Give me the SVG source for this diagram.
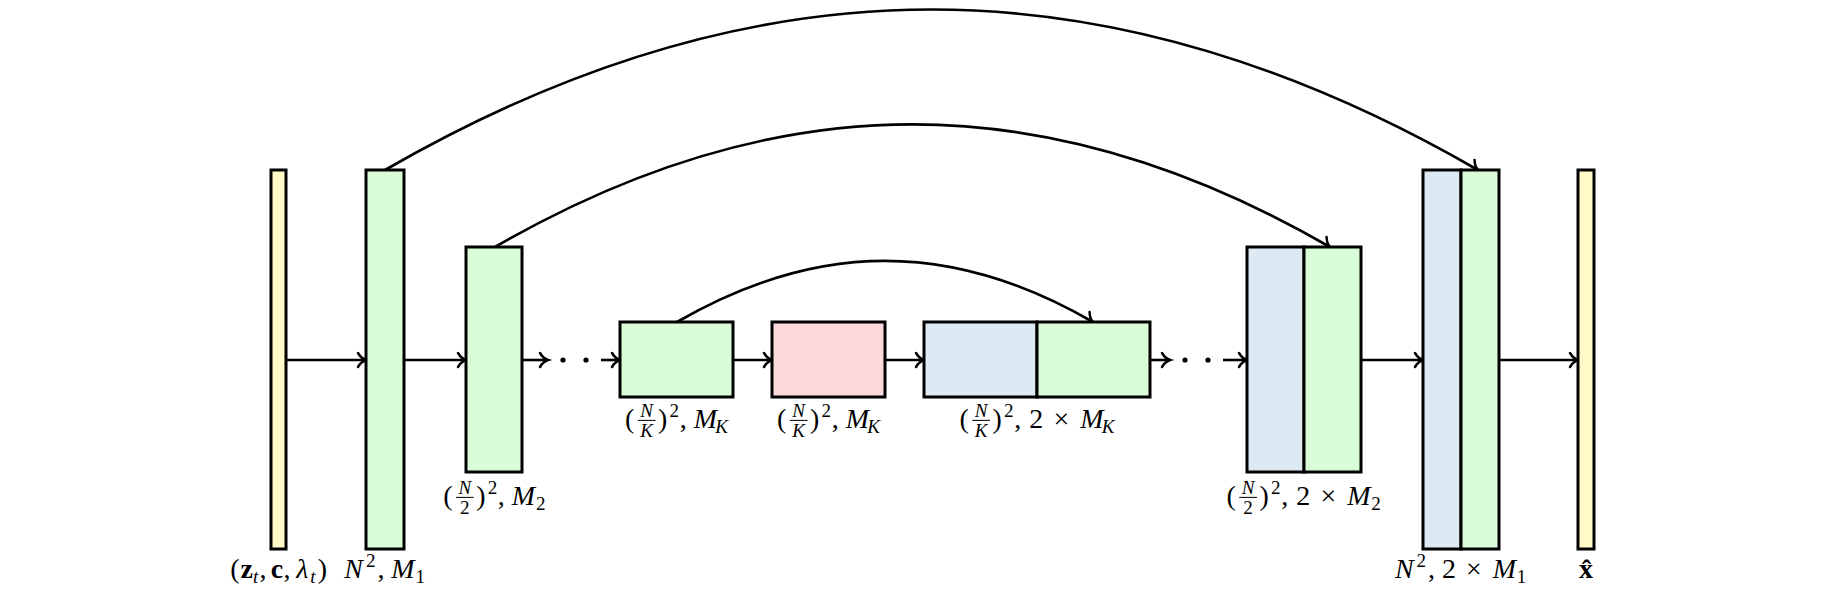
<svg xmlns="http://www.w3.org/2000/svg" width="1824" height="590" viewBox="0 0 1824 590">
<defs>
<marker id="arr" markerUnits="userSpaceOnUse" markerWidth="20" markerHeight="20" refX="0" refY="0" orient="auto" viewBox="-10 -10 20 20" overflow="visible">
<path d="M-8,-7 C-5.5,-2.8 -2,-0.6 0,0 C-2,0.6 -5.5,2.8 -8,7" fill="none" stroke="#000" stroke-width="2.5" stroke-linecap="round"/>
</marker>
</defs>
<style>
.box{stroke:#000;stroke-width:3}
.y{fill:#FFFAC6}.g{fill:#D9FCD9}.p{fill:#FCD9DB}.b{fill:#DEEAF3}
.c{fill:none;stroke:#000;stroke-width:2.6;marker-end:url(#arr)}
text{font-family:"Liberation Serif","DejaVu Serif",serif;font-size:22px;fill:#000}
.i{font-style:italic}
.s{font-size:15px}
.bf{font-weight:bold}
.xh{font-size:28px}
.fb{stroke:#000;stroke-width:0.8}
</style>
<rect width="1824" height="590" fill="#fff"/>
<g id="connectors">
<path class="c" d="M385,170 C755.7,-44 1107.3,-44 1478,170"/>
<path class="c" d="M495,247 C778,83.5 1047,83.5 1330,247"/>
<path class="c" d="M677,322 C818,240.5 952,240.5 1093,322"/>
<path class="c" d="M286,360 H366"/>
<path class="c" d="M404,360 H466"/>
<path class="c" d="M522,360 H548"/>
<path class="c" d="M601,360 H620"/>
<path class="c" d="M733,360 H772"/>
<path class="c" d="M885,360 H924"/>
<path class="c" d="M1150,360 H1170"/>
<path class="c" d="M1223,360 H1247"/>
<path class="c" d="M1361,360 H1423"/>
<path class="c" d="M1499,360 H1578"/>
<circle cx="563" cy="360" r="2.6"/>
<circle cx="586" cy="360" r="2.6"/>
<circle cx="1185" cy="360" r="2.6"/>
<circle cx="1208" cy="360" r="2.6"/>
</g>
<g id="input">
<rect class="box y" x="271" y="170" width="15" height="379"/>
<g transform="translate(278.5,578) scale(1.27) translate(-38,0)">
<text x="0" y="0">(</text><text class="bf" x="8" y="0">z</text><text class="i s" x="18" y="4">t</text><text x="23" y="0">,</text>
<text class="bf" x="32" y="0">c</text><text x="42" y="0">,</text><text class="i" x="52" y="0">λ</text><text class="i s" x="63" y="4">t</text><text x="69" y="0">)</text>
</g>
</g>
<g id="enc1">
<rect class="box g" x="366" y="170" width="38" height="379"/>
<g transform="translate(385,578) scale(1.27) translate(-32,0)">
<text class="i" x="0" y="0">N</text><text class="s" x="17" y="-9">2</text><text x="26" y="0">,</text><text class="i" x="37" y="0">M</text><text class="s" x="56" y="4">1</text>
</g>
</g>
<g id="enc2">
<rect class="box g" x="466" y="247" width="56" height="225"/>
<g transform="translate(494,505) scale(1.27) translate(-40,0)">
<text x="0" y="0">(</text><text class="i s" x="17" y="-9" text-anchor="middle">N</text><line class="fb" x1="10" x2="24" y1="-6" y2="-6"/><text class="s" x="17" y="7" text-anchor="middle">2</text>
<text x="26" y="0">)</text><text class="s" x="35" y="-9">2</text><text x="43" y="0">,</text><text class="i" x="54" y="0">M</text><text class="s" x="73" y="4">2</text>
</g>
</g>
<g id="encK">
<rect class="box g" x="620" y="322" width="113" height="75"/>
<g transform="translate(676.5,428) scale(1.27) translate(-40.5,0)">
<text x="0" y="0">(</text><text class="i s" x="17" y="-9" text-anchor="middle">N</text><line class="fb" x1="10" x2="24" y1="-6" y2="-6"/><text class="i s" x="17" y="7" text-anchor="middle">K</text>
<text x="26" y="0">)</text><text class="s" x="35" y="-9">2</text><text x="43" y="0">,</text><text class="i" x="54" y="0">M</text><text class="i s" x="71" y="4">K</text>
</g>
</g>
<g id="bottleneck">
<rect class="box p" x="772" y="322" width="113" height="75"/>
<g transform="translate(828.5,428) scale(1.27) translate(-40.5,0)">
<text x="0" y="0">(</text><text class="i s" x="17" y="-9" text-anchor="middle">N</text><line class="fb" x1="10" x2="24" y1="-6" y2="-6"/><text class="i s" x="17" y="7" text-anchor="middle">K</text>
<text x="26" y="0">)</text><text class="s" x="35" y="-9">2</text><text x="43" y="0">,</text><text class="i" x="54" y="0">M</text><text class="i s" x="71" y="4">K</text>
</g>
</g>
<g id="decK">
<rect class="box b" x="924" y="322" width="113" height="75"/>
<rect class="box g" x="1037" y="322" width="113" height="75"/>
<g transform="translate(1037,428) scale(1.27) translate(-61,0)">
<text x="0" y="0">(</text><text class="i s" x="17" y="-9" text-anchor="middle">N</text><line class="fb" x1="10" x2="24" y1="-6" y2="-6"/><text class="i s" x="17" y="7" text-anchor="middle">K</text>
<text x="26" y="0">)</text><text class="s" x="35" y="-9">2</text><text x="43" y="0">,</text><text x="55" y="0">2</text><text x="74" y="0">×</text><text class="i" x="95" y="0">M</text><text class="i s" x="112" y="4">K</text>
</g>
</g>
<g id="dec2">
<rect class="box b" x="1247" y="247" width="57" height="225"/>
<rect class="box g" x="1304" y="247" width="57" height="225"/>
<g transform="translate(1304,505) scale(1.27) translate(-61,0)">
<text x="0" y="0">(</text><text class="i s" x="17" y="-9" text-anchor="middle">N</text><line class="fb" x1="10" x2="24" y1="-6" y2="-6"/><text class="s" x="17" y="7" text-anchor="middle">2</text>
<text x="26" y="0">)</text><text class="s" x="35" y="-9">2</text><text x="43" y="0">,</text><text x="55" y="0">2</text><text x="74" y="0">×</text><text class="i" x="95" y="0">M</text><text class="s" x="114" y="4">2</text>
</g>
</g>
<g id="dec1">
<rect class="box b" x="1423" y="170" width="38" height="379"/>
<rect class="box g" x="1461" y="170" width="38" height="379"/>
<g transform="translate(1461,578) scale(1.27) translate(-52,0)">
<text class="i" x="0" y="0">N</text><text class="s" x="17" y="-9">2</text><text x="26" y="0">,</text><text x="37" y="0">2</text><text x="56" y="0">×</text><text class="i" x="77" y="0">M</text><text class="s" x="96" y="4">1</text>
</g>
</g>
<g id="output">
<rect class="box y" x="1578" y="170" width="16" height="379"/>
<text class="bf xh" x="1586" y="578" text-anchor="middle">x̂</text>
</g>
</svg>
